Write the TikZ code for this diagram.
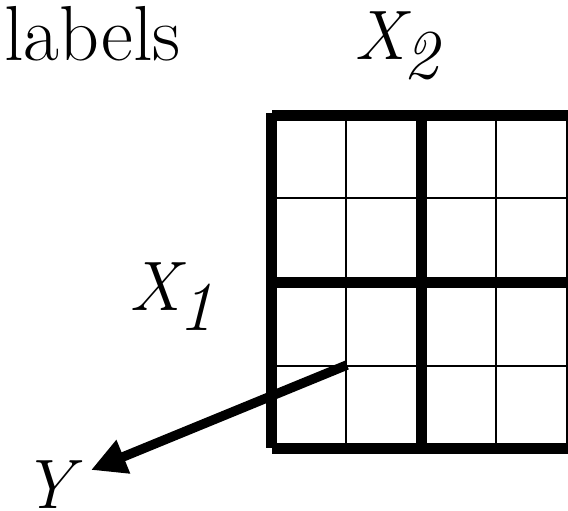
\documentclass[tikz,border=0pt]{standalone}
\usepackage{fontspec}
\usetikzlibrary{arrows.meta}
\begin{document}
\begin{tikzpicture}[x=1pt,y=-1pt,
  thickline/.style={line width=11pt,line cap=butt},
  thinline/.style={line width=2pt,line cap=butt},
  lbl/.style={inner sep=0pt,anchor=base west,font=\fontsize{70pt}{78pt}\selectfont\itshape},
  ttl/.style={inner sep=0pt,anchor=base west,font=\fontsize{78pt}{86pt}\selectfont}]
\useasboundingbox (0,0) rectangle (568,511);
% thin grid lines
\foreach \x in {346,496} \draw[thinline] (\x,115) -- (\x,449);
\foreach \y in {198,366} \draw[thinline] (271,\y) -- (575,\y);
% thick lines
\draw[thickline] (271,113) -- (271,448);
\draw[thickline] (421,115) -- (421,449);
\draw[thickline] (571,115) -- (571,449);
\draw[thickline] (272,115.5) -- (580,115.5);
\draw[thickline] (271,282) -- (580,282);
\draw[thickline] (272,448.5) -- (580,448.5);
% arrow
\coordinate (ystart) at (347,365);
\coordinate (yend) at (91,470);
\draw[line width=9.5pt,-{Triangle[length=35pt,width=34pt]}] (ystart) -- (yend);
% labels
\node[ttl] (title) at (4,61) {labels};
\node[lbl] (x2) at (354,60) {X\kern-2pt\raisebox{-19pt}{2}};
\node[lbl] (x1) at (129,310) {X\kern-2pt\raisebox{-20pt}{1}};
\node[lbl] (y) at (22,508) {Y};
\end{tikzpicture}
\end{document}
